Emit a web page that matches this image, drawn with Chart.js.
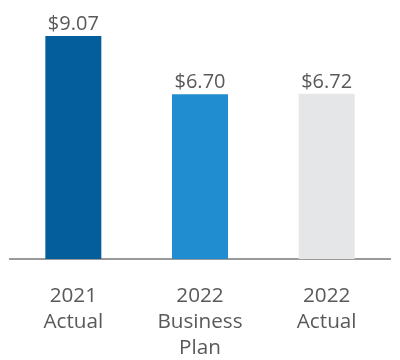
<!DOCTYPE html>
<html>
<head>
<meta charset="utf-8">
<script src="https://cdn.jsdelivr.net/npm/chart.js@4"></script>
<style>
  html, body { margin: 0; padding: 0; background: #fff; }
  #wrap { width: 400px; height: 360px; }
</style>
</head>
<body>
<div id="wrap"><canvas id="myCanvas"></canvas></div>
<script>
var labels = [["2021", "Actual"], ["2022", "Business", "Plan"], ["2022", "Actual"]];
var values = [9.07, 6.70, 6.72];
var colors = ["#045e9c", "#1f8dd0", "#e5e6e8"];

// value labels above the bars
var valueLabels = {
    id: 'valueLabels',
    afterDatasetsDraw: function (chart) {
        var ctx = chart.ctx;
        var meta = chart.getDatasetMeta(0);
        ctx.save();
        ctx.font = '20px "Open Sans"';
        ctx.fillStyle = '#595959';
        ctx.textAlign = 'center';
        ctx.textBaseline = 'alphabetic';
        meta.data.forEach(function (bar, i) {
            ctx.fillText('$' + values[i].toFixed(2), bar.x, bar.y - 6);
        });
        ctx.restore();
    }
};

let myChart = document.getElementById("myCanvas").getContext('2d');

new Chart(myChart, {
    type: 'bar',
    data: {
        labels: labels,
        datasets: [{
            data: values,
            backgroundColor: colors,
            barPercentage: 0.442,
            categoryPercentage: 1
        }]
    },
    options: {
        responsive: true,
        maintainAspectRatio: false,
        animation: false,
        layout: { padding: { top: 13, left: 10, right: 10, bottom: 0 } },
        plugins: {
            legend: { display: false },
            tooltip: { enabled: false }
        },
        scales: {
            x: {
                grid: { display: false },
                border: { display: true, color: '#9a9a9a', width: 2 },
                ticks: {
                    color: '#595959',
                    font: { family: 'Open Sans', size: 20.7, lineHeight: 1.26 },
                    padding: 16,
                    maxRotation: 0,
                    autoSkip: false
                },
                afterFit: function (scale) { scale.height = 101; }
            },
            y: {
                display: false,
                min: 0,
                max: 10
            }
        }
    },
    plugins: [valueLabels]
});
</script>
</body>
</html>
